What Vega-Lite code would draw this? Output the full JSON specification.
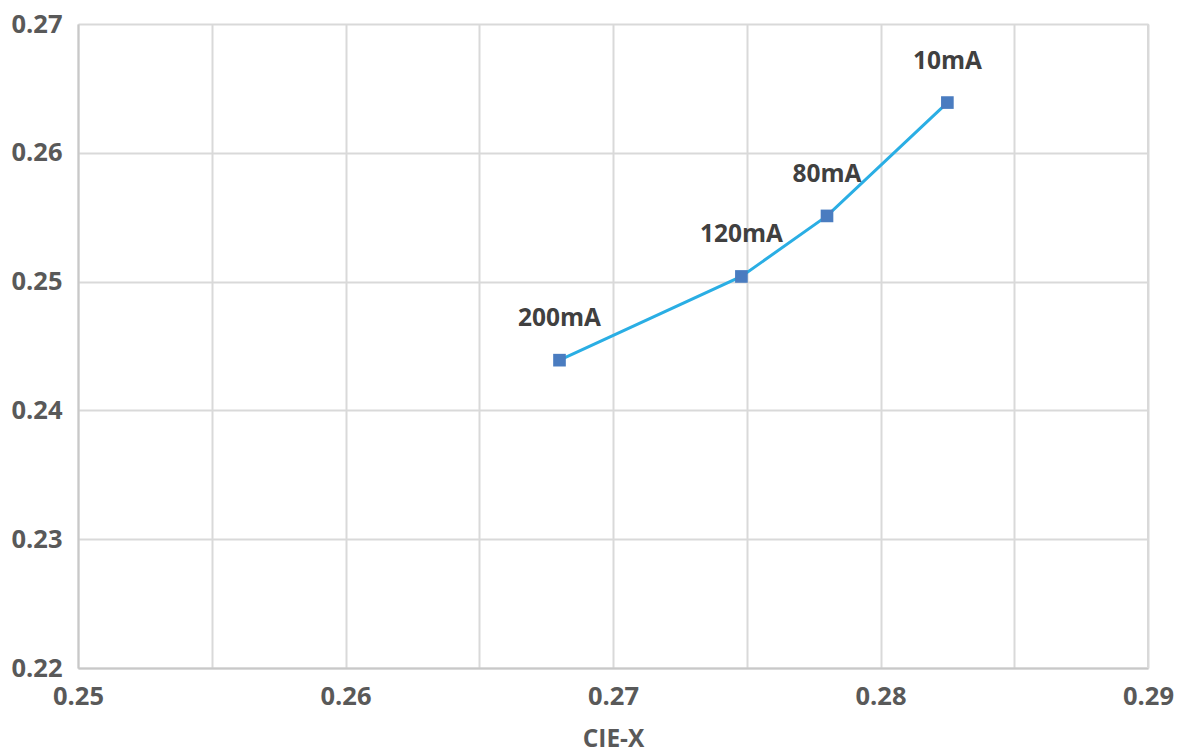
{
  "$schema": "https://vega.github.io/schema/vega-lite/v6.json",
  "width": 1070,
  "height": 644,
  "autosize": {"type": "none"},
  "padding": {"left": 78, "top": 24, "right": 32, "bottom": 85},
  "background": "white",
  "config": {
    "view": {"stroke": null},
    "font": "Open Sans"
  },
  "data": {
    "values": [
      {"x": 0.268, "y": 0.2439, "label": "200mA"},
      {"x": 0.2748, "y": 0.2504, "label": "120mA"},
      {"x": 0.2780, "y": 0.2551, "label": "80mA"},
      {"x": 0.2825, "y": 0.2639, "label": "10mA"}
    ]
  },
  "encoding": {
    "x": {
      "field": "x",
      "type": "quantitative",
      "scale": {"domain": [0.25, 0.29], "nice": false, "zero": false},
      "axis": {
        "title": "CIE-X",
        "values": [0.25, 0.255, 0.26, 0.265, 0.27, 0.275, 0.28, 0.285, 0.29],
        "labelExpr": "round(datum.value*1000) % 10 == 0 ? format(datum.value, '.2f') : ''",
        "grid": true,
        "gridColor": "#d9d9d9",
        "gridWidth": 2,
        "domainColor": "#c8c8c8",
        "domainWidth": 2,
        "ticks": false,
        "labelFont": "Open Sans",
        "labelFontSize": 25.5,
        "labelFontWeight": "bold",
        "labelColor": "#595959",
        "labelPadding": 16,
        "labelFlush": false,
        "titleFont": "Open Sans",
        "titleFontSize": 24.5,
        "titleFontWeight": "bold",
        "titleColor": "#595959",
        "titlePadding": 18
      }
    },
    "y": {
      "field": "y",
      "type": "quantitative",
      "scale": {"domain": [0.22, 0.27], "nice": false, "zero": false},
      "axis": {
        "title": null,
        "values": [0.22, 0.23, 0.24, 0.25, 0.26, 0.27],
        "format": ".2f",
        "grid": true,
        "gridColor": "#d9d9d9",
        "gridWidth": 2,
        "domainColor": "#c8c8c8",
        "domainWidth": 2,
        "ticks": false,
        "labelFont": "Open Sans",
        "labelFontSize": 25.5,
        "labelFontWeight": "bold",
        "labelColor": "#595959",
        "labelPadding": 16,
        "labelFlush": false
      }
    }
  },
  "layer": [
    {
      "mark": {"type": "rule", "color": "#d9d9d9", "strokeWidth": 2},
      "encoding": {"x": {"datum": 0.29}, "y": {"datum": 0.22}, "y2": {"datum": 0.27}}
    },
    {
      "mark": {"type": "line", "color": "#2aaee4", "strokeWidth": 3},
      "encoding": {"order": {"field": "x", "type": "quantitative"}}
    },
    {
      "mark": {"type": "point", "shape": "square", "filled": true, "size": 160, "color": "#4a7cc0", "opacity": 1}
    },
    {
      "mark": {"type": "text", "dy": -41, "font": "Open Sans", "fontSize": 24.5, "fontWeight": "bold", "color": "#404040", "baseline": "middle", "align": "center"},
      "encoding": {"text": {"field": "label"}}
    }
  ]
}
